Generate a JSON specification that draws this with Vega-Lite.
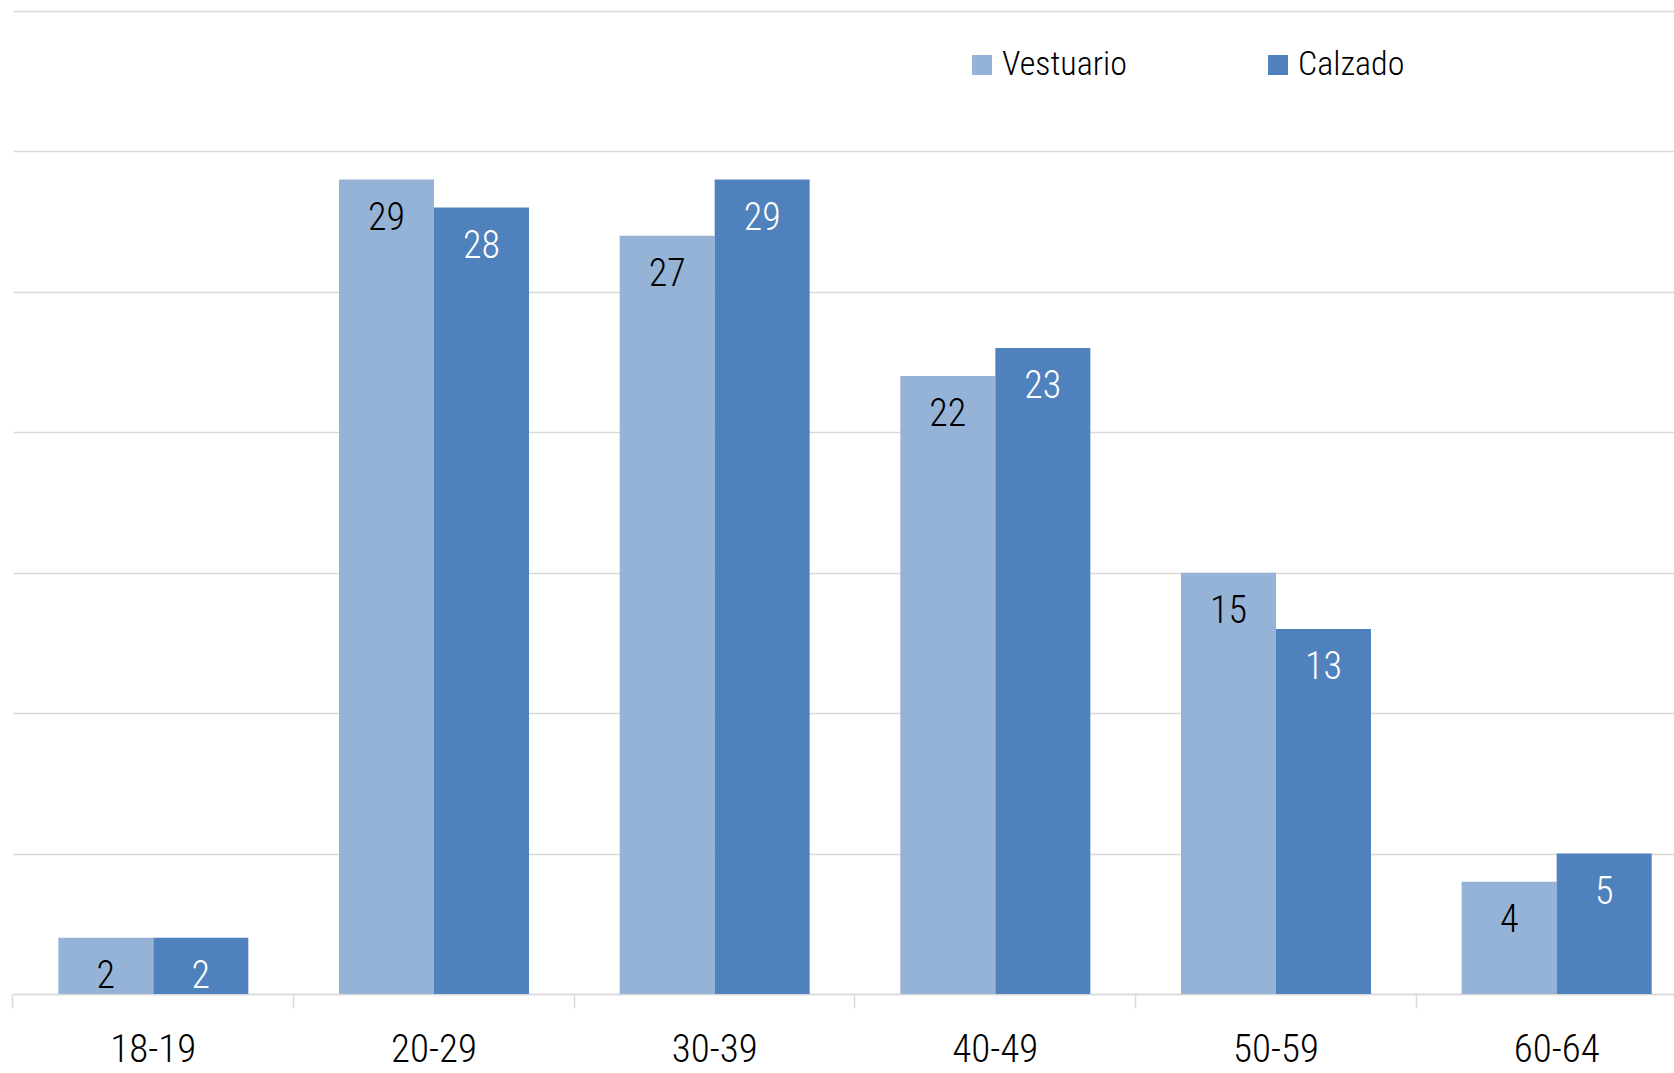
{
  "$schema": "https://vega.github.io/schema/vega-lite/v6.json",
  "autosize": {"type": "none"},
  "padding": {"left": 13, "top": 11, "right": 0, "bottom": 79},
  "width": 1684,
  "height": 983,
  "background": "white",
  "config": {
    "view": {"stroke": null},
    "font": "Roboto Condensed, Liberation Sans Narrow, DejaVu Sans Condensed, sans-serif"
  },
  "data": {
    "values": [
      {"edad": "18-19", "serie": "Vestuario", "valor": 2},
      {"edad": "18-19", "serie": "Calzado", "valor": 2},
      {"edad": "20-29", "serie": "Vestuario", "valor": 29},
      {"edad": "20-29", "serie": "Calzado", "valor": 28},
      {"edad": "30-39", "serie": "Vestuario", "valor": 27},
      {"edad": "30-39", "serie": "Calzado", "valor": 29},
      {"edad": "40-49", "serie": "Vestuario", "valor": 22},
      {"edad": "40-49", "serie": "Calzado", "valor": 23},
      {"edad": "50-59", "serie": "Vestuario", "valor": 15},
      {"edad": "50-59", "serie": "Calzado", "valor": 13},
      {"edad": "60-64", "serie": "Vestuario", "valor": 4},
      {"edad": "60-64", "serie": "Calzado", "valor": 5}
    ]
  },
  "encoding": {
    "x": {
      "field": "edad",
      "type": "nominal",
      "sort": null,
      "scale": {"type": "band", "paddingInner": 0.323, "paddingOuter": 0.1615},
      "axis": {
        "title": null,
        "labelAngle": 0,
        "labelFontSize": 39,
        "labelFontWeight": 300,
        "labelColor": "#000000",
        "labelPadding": 22,
        "domainColor": "#d9d9d9",
        "domainWidth": 1.5,
        "tickColor": "#d9d9d9",
        "tickWidth": 1.5,
        "tickSize": 14,
        "bandPosition": -0.2386,
        "grid": false
      }
    },
    "xOffset": {
      "field": "serie",
      "type": "nominal",
      "sort": ["Vestuario", "Calzado"],
      "scale": {"paddingInner": 0, "paddingOuter": 0}
    },
    "y": {
      "field": "valor",
      "type": "quantitative",
      "scale": {"domain": [0, 35], "nice": false},
      "axis": {
        "title": null,
        "labels": false,
        "ticks": false,
        "domain": false,
        "values": [0, 5, 10, 15, 20, 25, 30, 35],
        "gridColor": "#d9d9d9",
        "gridWidth": 1.5
      }
    }
  },
  "layer": [
    {
      "mark": {"type": "bar"},
      "encoding": {
        "color": {
          "field": "serie",
          "type": "nominal",
          "sort": ["Vestuario", "Calzado"],
          "scale": {"domain": ["Vestuario", "Calzado"], "range": ["#95b3d7", "#4f81bd"]},
          "legend": {
            "orient": "none",
            "legendX": 952,
            "legendY": 37,
            "padding": 0,
            "direction": "horizontal",
            "title": null,
            "symbolType": "square",
            "symbolSize": 400,
            "symbolStrokeWidth": 0,
            "labelFontSize": 34,
            "labelFontWeight": 300,
            "labelColor": "#000000",
            "labelOffset": 3,
            "columnPadding": 134
          }
        }
      }
    },
    {
      "mark": {"type": "text", "baseline": "alphabetic", "dy": 50, "fontSize": 38, "fontWeight": 300},
      "encoding": {
        "text": {"field": "valor", "type": "quantitative"},
        "color": {
          "condition": {"test": "datum.serie === 'Calzado'", "value": "#ffffff"},
          "value": "#000000"
        }
      }
    }
  ]
}
